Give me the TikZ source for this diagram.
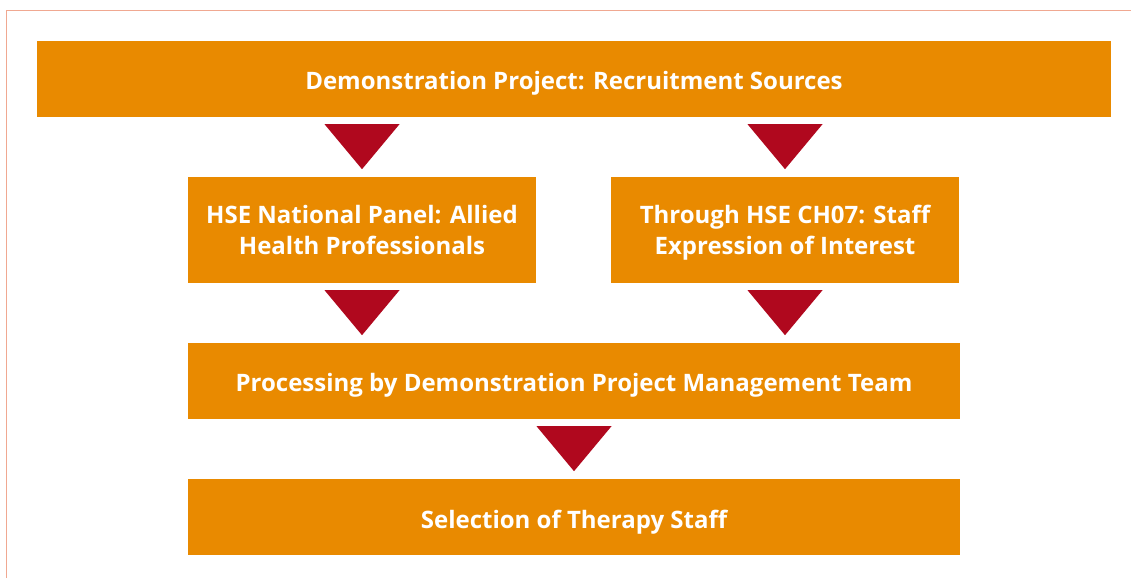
\documentclass[tikz,border=0pt]{standalone}
\usepackage{fontspec}
\setmainfont{Open Sans}
\usepackage{xcolor}
\usepackage{tikz}
\usetikzlibrary{positioning,calc}

\definecolor{boxorange}{RGB}{233,138,0}
\definecolor{arrowred}{RGB}{176,8,30}
\definecolor{framepeach}{RGB}{240,168,145}

\begin{document}
\begin{tikzpicture}[x=1pt,y=1pt,
    box/.style={fill=boxorange, text=white, inner sep=0pt, align=center, text height=22pt, text depth=0pt,
        font=\fontsize{24}{30.5}\selectfont\bfseries},
    twoline/.style={box, text height={}, text depth=-4pt, minimum width=348, minimum height=106},
    tri/.style={fill=arrowred}]
    \useasboundingbox (0,0) rectangle (1131,578);
    \draw[framepeach, line width=1.5pt] (6.5,0) -- (6.5,567.5) -- (1131,567.5);

    \node[box, minimum width=1074, minimum height=76] (src) at (574,499) {Demonstration Project: Recruitment Sources};
    \node[twoline] (hse) at (362,348) {HSE National Panel: Allied\\Health Professionals};
    \node[twoline] (ch07) at (785,348) {Through HSE CH07: Staff\\Expression of Interest};
    \node[box, minimum width=772, minimum height=76] (proc) at (574,197) {Processing by Demonstration Project Management Team};
    \node[box, minimum width=772, minimum height=76] (sel) at (574,61) {Selection of Therapy Staff};

    % down triangles between the boxes
    \foreach \col/\up in {hse/src, ch07/src, hse/hse, ch07/ch07, proc/proc} {
        \fill[tri] ($(\col |- \up.south)+(-37.5,-7)$) -- ++(75,0) -- ($(\col |- \up.south)+(0,-52)$) -- cycle;
    }
\end{tikzpicture}
\end{document}
